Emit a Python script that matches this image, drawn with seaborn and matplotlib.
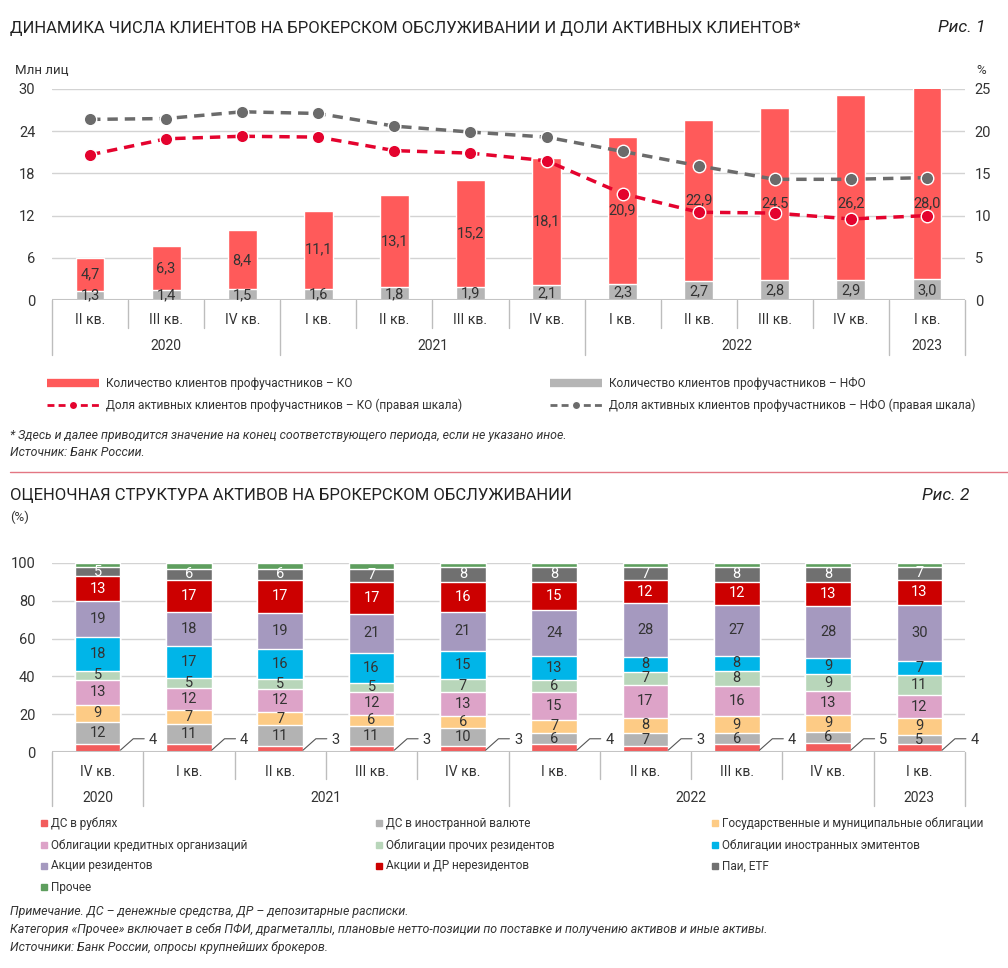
import numpy as np
import pandas as pd
import matplotlib
matplotlib.use('Agg')
import matplotlib.pyplot as plt
import seaborn as sns
from matplotlib.lines import Line2D

sns.set_theme(style="white")
plt.rcParams['font.family'] = ['Roboto', 'DejaVu Sans']

# ---- data: figure 1 (clients) ----
quarters_top = ['II кв.', 'III кв.', 'IV кв.', 'I кв.', 'II кв.', 'III кв.', 'IV кв.',
                'I кв.', 'II кв.', 'III кв.', 'IV кв.', 'I кв.']
years_top = ['2020', '2021', '2022', '2023']
years_top_span = [(0, 2), (3, 6), (7, 10), (11, 11)]
clients_nfo = [1.3, 1.4, 1.5, 1.6, 1.8, 1.9, 2.1, 2.3, 2.7, 2.8, 2.9, 3.0]
clients_ko = [4.7, 6.3, 8.4, 11.1, 13.1, 15.2, 18.1, 20.9, 22.9, 24.5, 26.2, 28.0]
active_ko = [17.2, 19.1, 19.4, 19.3, 17.7, 17.4, 16.5, 12.6, 10.4, 10.3, 9.6, 10.0]
active_nfo = [21.4, 21.5, 22.3, 22.1, 20.6, 19.9, 19.3, 17.6, 15.9, 14.3, 14.3, 14.5]

# ---- data: figure 2 (asset structure, %) ----
quarters_bot = ['IV кв.', 'I кв.', 'II кв.', 'III кв.', 'IV кв.', 'I кв.', 'II кв.',
                'III кв.', 'IV кв.', 'I кв.']
years_bot = ['2020', '2021', '2022', '2023']
years_bot_span = [(0, 0), (1, 4), (5, 8), (9, 9)]
asset_names = ['ДС в рублях', 'ДС в иностранной валюте', 'Государственные и муниципальные облигации',
               'Облигации кредитных организаций', 'Облигации прочих резидентов',
               'Облигации иностранных эмитентов', 'Акции резидентов', 'Акции и ДР нерезидентов',
               'Паи, ETF', 'Прочее']
rub_cash = [4, 4, 3, 3, 3, 4, 3, 4, 5, 4]
fx_cash = [12, 11, 11, 11, 10, 6, 7, 6, 6, 5]
gov_bonds = [9, 7, 7, 6, 6, 7, 8, 9, 9, 9]
bank_bonds = [13, 12, 12, 12, 13, 15, 17, 16, 13, 12]
other_res_bonds = [5, 5, 5, 5, 7, 6, 7, 8, 9, 11]
foreign_bonds = [18, 17, 16, 16, 15, 13, 8, 8, 9, 7]
res_shares = [19, 18, 19, 21, 21, 24, 28, 27, 28, 30]
nonres_shares = [13, 17, 17, 17, 16, 15, 12, 12, 13, 13]
funds_etf = [5, 6, 6, 7, 8, 8, 7, 8, 8, 7]
other = [2, 3, 3, 3, 2, 2, 2, 2, 2, 2]

ko_red = '#FF5A5A'
nfo_gray = '#B5B5B5'
line_red = '#E4032E'
line_gray = '#6B6B6B'
txt = '#333333'
sep_gray = '#BDBDBD'
asset_colors = ['#F25C5C', '#B3B3B3', '#FDCB85', '#DDA3C8', '#B8D6BA',
                '#00B5E8', '#A599BF', '#CC0000', '#707070', '#5E9E5E']

W, H = 1008, 968


def fx(x):
    return x / W


def fy(y):
    return 1 - y / H


def comma(v):
    return f'{v:.1f}'.replace('.', ',')


def draw_periods(ax, quarters, years, spans, q_len, y_len, q_pos, y_pos):
    # quarter / year labels under the axis with separators
    n = len(quarters)
    tr = ax.get_xaxis_transform()
    starts = [s for s, e in spans]
    for b in range(n + 1):
        length = y_len if (b in starts or b == n) else q_len
        ax.plot([b - 0.5, b - 0.5], [0, -length], transform=tr, clip_on=False,
                color=sep_gray, lw=1)
    for i, q in enumerate(quarters):
        ax.text(i, -q_pos, q, transform=tr, ha='center', va='center', fontsize=10, color=txt)
    for yr, (s, e) in zip(years, spans):
        ax.text((s + e) / 2, -y_pos, yr, transform=tr, ha='center', va='center',
                fontsize=10, color=txt)


fig = plt.figure(figsize=(W / 100, H / 100), dpi=100)

# ================= figure 1 =================
ax = fig.add_axes([fx(52), fy(300), fx(965) - fx(52), fy(89) - fy(300)])
n_top = len(quarters_top)
pos_top = np.arange(n_top)
df_top = pd.DataFrame({'pos': pos_top, 'nfo': clients_nfo, 'ko': clients_ko})
df_top['total'] = df_top['nfo'] + df_top['ko']

sns.barplot(data=df_top, x='pos', y='total', color=ko_red, saturation=1, width=0.38,
            errorbar=None, ax=ax)
sns.barplot(data=df_top, x='pos', y='nfo', color=nfo_gray, saturation=1, width=0.38,
            errorbar=None, edgecolor='white', linewidth=1, ax=ax)
ax.set_ylim(0, 30)
ax.set_xlim(-0.5, n_top - 0.5)
ax.set_yticks(range(0, 31, 6))
ax.set_xticks([])
ax.set_xlabel('')
ax.set_ylabel('')
ax.grid(axis='y', color='#D3D3D3', lw=1)
ax.set_axisbelow(True)
ax.axhline(0, color='#C4C4C4', lw=1.5)
sns.despine(ax=ax, left=True, bottom=True)
ax.tick_params(axis='y', length=0, pad=12, labelsize=10.5, labelcolor=txt)

for i in pos_top:
    nfo, ko = clients_nfo[i], clients_ko[i]
    ax.text(i, nfo / 2 - 0.05, comma(nfo), ha='center', va='center', fontsize=10.5, color=txt)
    y_ko = min(nfo + ko / 2, 13.7 if ko > 24 else 14.6)
    ax.text(i, y_ko, comma(ko), ha='center', va='center', fontsize=10.5, color=txt)

draw_periods(ax, quarters_top, years_top, years_top_span, 28 / 211, 55 / 211, 20 / 211, 46 / 211)

ax2 = ax.twinx()
sns.lineplot(x=pos_top, y=active_nfo, color=line_gray, lw=2.5, linestyle=(0, (3, 2)),
             marker='o', markersize=9, markeredgecolor='white', markeredgewidth=1, ax=ax2)
sns.lineplot(x=pos_top, y=active_ko, color=line_red, lw=2.5, linestyle=(0, (3, 2)),
             marker='o', markersize=9, markeredgecolor='white', markeredgewidth=1, ax=ax2)
ax2.set_ylim(0, 25)
ax2.set_yticks(range(0, 26, 5))
ax2.set_ylabel('')
ax2.grid(False)
sns.despine(ax=ax2, left=True, bottom=True, right=True)
ax2.tick_params(axis='y', length=0, pad=7, labelsize=10.5, labelcolor=txt)

fig.text(fx(10), fy(28), 'ДИНАМИКА ЧИСЛА КЛИЕНТОВ НА БРОКЕРСКОМ ОБСЛУЖИВАНИИ И ДОЛИ АКТИВНЫХ КЛИЕНТОВ*',
         fontsize=12, color='#222222', va='center')
fig.text(fx(985), fy(28), 'Рис. 1', fontsize=12.5, style='italic', color='#222222',
         ha='right', va='center')
fig.text(fx(15), fy(70), 'Млн лиц', fontsize=9.5, color=txt, va='center')
fig.text(fx(981), fy(70), '%', fontsize=9.5, color=txt, va='center', ha='center')

# legend of figure 1
leg_top = [
    (47, 383, 'bar', ko_red, 'Количество клиентов профучастников – КО'),
    (550, 383, 'bar', nfo_gray, 'Количество клиентов профучастников – НФО'),
    (47, 405, 'line', line_red, 'Доля активных клиентов профучастников – КО (правая шкала)'),
    (550, 405, 'line', line_gray, 'Доля активных клиентов профучастников – НФО (правая шкала)'),
]
for x0, y0, kind, col, label in leg_top:
    if kind == 'bar':
        fig.add_artist(Line2D([fx(x0), fx(x0 + 52)], [fy(y0), fy(y0)], color=col, lw=6,
                              solid_capstyle='butt', transform=fig.transFigure))
    else:
        fig.add_artist(Line2D([fx(x0), fx(x0 + 52)], [fy(y0), fy(y0)], color=col, lw=2,
                              linestyle=(0, (2.5, 1.5)), transform=fig.transFigure))
        fig.add_artist(Line2D([fx(x0 + 26)], [fy(y0)], color=col, marker='o', markersize=6,
                              markeredgecolor='white', transform=fig.transFigure))
    fig.text(fx(x0 + 59), fy(y0), label, fontsize=8.6, color=txt, va='center')

fig.text(fx(10), fy(435), '* Здесь и далее приводится значение на конец соответствующего периода, '
         'если не указано иное.', fontsize=8.9, style='italic', color=txt, va='center')
fig.text(fx(10), fy(452), 'Источник: Банк России.', fontsize=8.9, style='italic', color=txt,
         va='center')

fig.add_artist(Line2D([fx(10), fx(1008)], [fy(472), fy(472)], color='#E37683', lw=1,
                      transform=fig.transFigure))

# ================= figure 2 =================
bx = fig.add_axes([fx(52), fy(752), fx(965) - fx(52), fy(563) - fy(752)])
n_bot = len(quarters_bot)
pos_bot = np.arange(n_bot)
shares = np.array([rub_cash, fx_cash, gov_bonds, bank_bonds, other_res_bonds, foreign_bonds,
                   res_shares, nonres_shares, funds_etf, other], dtype=float)
scaled = shares / shares.sum(axis=0) * 100
cum = np.cumsum(scaled, axis=0)

for k in range(len(asset_names) - 1, -1, -1):
    sns.barplot(x=pos_bot, y=cum[k], color=asset_colors[k], saturation=1, width=0.5,
                errorbar=None, edgecolor='white', linewidth=1, ax=bx)
bx.set_ylim(0, 100)
bx.set_xlim(-0.5, n_bot - 0.5)
bx.set_yticks(range(0, 101, 20))
bx.set_xticks([])
bx.set_xlabel('')
bx.set_ylabel('')
bx.grid(axis='y', color='#D3D3D3', lw=1)
bx.set_axisbelow(True)
bx.axhline(0, color='#C4C4C4', lw=1.5)
sns.despine(ax=bx, left=True, bottom=True)
bx.tick_params(axis='y', length=0, pad=12, labelsize=10.5, labelcolor=txt)

white_text = {7, 8}
for i in pos_bot:
    for k in range(1, len(asset_names) - 1):
        mid = cum[k, i] - scaled[k, i] / 2
        bx.text(i, mid, f'{int(shares[k, i])}', ha='center', va='center', fontsize=10.5,
                color='white' if k in white_text else txt)
    # rouble cash is labelled outside the bar with a leader line
    bx.plot([i + 0.25, i + 0.39, i + 0.51], [1, 7, 7], color='#555555', lw=0.8, clip_on=False)
    bx.text(i + 0.56, 6.2, f'{int(shares[0, i])}', ha='left', va='center', fontsize=10.5,
            color=txt)

draw_periods(bx, quarters_bot, years_bot, years_bot_span, 27 / 189, 54 / 189, 20 / 189, 46 / 189)

fig.text(fx(10), fy(496), 'ОЦЕНОЧНАЯ СТРУКТУРА АКТИВОВ НА БРОКЕРСКОМ ОБСЛУЖИВАНИИ',
         fontsize=12, color='#222222', va='center')
fig.text(fx(970), fy(496), 'Рис. 2', fontsize=12.5, style='italic', color='#222222',
         ha='right', va='center')
fig.text(fx(10), fy(517), '(%)', fontsize=9.5, color=txt, va='center')

# legend of figure 2 (row by row, 3 columns)
col_x = [44, 379, 715]
row_y = [823, 845, 866, 887]
for k, name in enumerate(asset_names):
    x0, y0 = col_x[k % 3], row_y[k // 3]
    fig.add_artist(Line2D([fx(x0)], [fy(y0)], marker='s', markersize=5, color=asset_colors[k],
                          linestyle='none', transform=fig.transFigure))
    fig.text(fx(x0 + 7), fy(y0), name, fontsize=8.5, color=txt, va='center')

notes = ['Примечание. ДС – денежные средства, ДР – депозитарные расписки.',
         'Категория «Прочее» включает в себя ПФИ, драгметаллы, плановые нетто-позиции по поставке '
         'и получению активов и иные активы.',
         'Источники: Банк России, опросы крупнейших брокеров.']
for j, line in enumerate(notes):
    fig.text(fx(10), fy(911 + 18 * j), line, fontsize=8.9, style='italic', color=txt, va='center')

fig.savefig('out.png', dpi=100)
